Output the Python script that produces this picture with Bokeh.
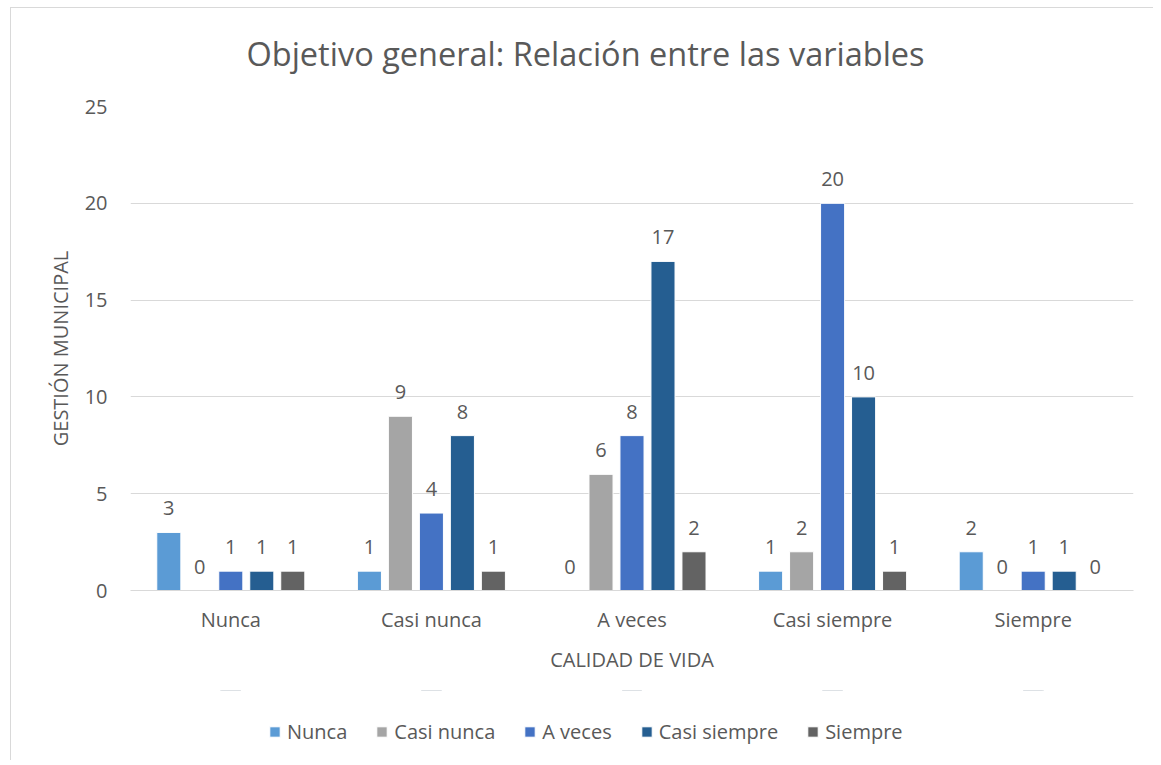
from bokeh.plotting import figure
from bokeh.models import (ColumnDataSource, FactorRange, Range1d, FixedTicker,
                          LabelSet, Legend, LegendItem)
from bokeh.core.properties import value
from bokeh.transform import dodge
from bokeh.layouts import column
from bokeh.embed import file_html
from bokeh.resources import INLINE

# ---- data ----
categories = ["Nunca", "Casi nunca", "A veces", "Casi siempre", "Siempre"]
series_names = ["Nunca", "Casi nunca", "A veces", "Casi siempre", "Siempre"]
nunca = [3, 1, 0, 1, 2]
casi_nunca = [0, 9, 6, 2, 0]
a_veces = [1, 4, 8, 20, 1]
casi_siempre = [1, 8, 17, 10, 1]
siempre = [1, 1, 2, 1, 0]
series_values = [nunca, casi_nunca, a_veces, casi_siempre, siempre]
colors = ["#5B9BD5", "#A5A5A5", "#4472C4", "#255E91", "#636363"]
y_ticks = [0, 5, 10, 15, 20, 25]

TITLE = "Objetivo general: Relación entre las variables"
X_LABEL = "CALIDAD DE VIDA"
Y_LABEL = "GESTIÓN MUNICIPAL"

FONT = "Open Sans"
TXT = "#595959"
GRID = "#D9D9D9"
LINE = "linear-gradient(#D9D9D9,#D9D9D9)"

p = figure(x_range=FactorRange(*categories), y_range=Range1d(0, 25),
           width=1153, height=690,
           min_border_left=130, min_border_right=20,
           min_border_top=106, min_border_bottom=100,
           output_backend="svg", toolbar_location=None,
           title=TITLE)
p.x_range.range_padding = 0
p.background_fill_color = None
p.border_fill_color = None
p.styles = {"background": (f"{LINE} 10px 7px / 1px calc(100% - 7px) no-repeat, "
                           f"{LINE} 10px 7px / calc(100% - 10px) 1px no-repeat, "
                           "#FFFFFF")}

p.title.text_font = FONT
p.title.text_font_size = "32.5px"
p.title.text_font_style = "normal"
p.title.text_color = TXT
p.title.align = "left"
p.title.vertical_align = "top"
p.title.offset = 116
p.title.standoff = 58

p.outline_line_color = None
p.xgrid.grid_line_color = None
p.ygrid.grid_line_color = GRID
p.ygrid.grid_line_width = 1

p.yaxis.ticker = FixedTicker(ticks=y_ticks)
p.yaxis.axis_line_color = None
p.yaxis.major_tick_line_color = None
p.yaxis.minor_tick_line_color = None
p.yaxis.major_label_standoff = 17
p.yaxis.major_label_text_font = FONT
p.yaxis.major_label_text_font_size = "20px"
p.yaxis.major_label_text_color = TXT
p.yaxis.axis_label = Y_LABEL
p.yaxis.axis_label_text_font = FONT
p.yaxis.axis_label_text_font_size = "20px"
p.yaxis.axis_label_text_font_style = "normal"
p.yaxis.axis_label_text_color = TXT
p.yaxis.axis_label_standoff = 8

p.xaxis.axis_line_color = GRID
p.xaxis.axis_line_width = 1
p.xaxis.major_tick_line_color = None
p.xaxis.minor_tick_line_color = None
p.xaxis.major_label_standoff = 9
p.xaxis.major_label_text_font = FONT
p.xaxis.major_label_text_font_size = "20px"
p.xaxis.major_label_text_color = TXT
p.xaxis.axis_label = X_LABEL
p.xaxis.axis_label_text_font = FONT
p.xaxis.axis_label_text_font_size = "20px"
p.xaxis.axis_label_text_font_style = "normal"
p.xaxis.axis_label_text_color = TXT
p.xaxis.axis_label_standoff = 10

pitch = 0.1545
bar_w = 0.12
sources = []
for i, (name, vals, col) in enumerate(zip(series_names, series_values, colors)):
    off = (i - 2) * pitch
    src = ColumnDataSource(dict(cat=categories, val=vals, lbl=[str(v) for v in vals]))
    sources.append(src)
    p.vbar(x=dodge("cat", off, range=p.x_range), top="val", width=bar_w,
           source=src, fill_color=col, line_color="white", line_width=1)
    labels = LabelSet(x=dodge("cat", off, range=p.x_range), y="val", text="lbl",
                      source=src, y_offset=17, text_align="center",
                      text_baseline="alphabetic", text_font=value(FONT),
                      text_font_size=value("20px"), text_color=TXT)
    p.add_layout(labels)

# ---- legend strip (separate figure below the chart) ----
# Its bars share the chart's data but lie outside this strip's y-range,
# so only the legend keys (which need drawable renderers) are visible.
p2 = figure(width=1153, height=70, x_range=FactorRange(*categories),
            y_range=Range1d(-3, -2),
            x_axis_type=None, y_axis_type=None,
            min_border_left=0, min_border_right=0, min_border_top=0, min_border_bottom=0,
            output_backend="svg", toolbar_location=None)
p2.outline_line_color = None
p2.background_fill_color = None
p2.border_fill_color = None
p2.grid.visible = False
p2.styles = {"background": f"{LINE} 10px 0px / 1px 100% no-repeat, #FFFFFF"}

items = []
for name, col, src in zip(series_names, colors, sources):
    r = p2.vbar(x="cat", top="val", width=0.1, source=src,
                fill_color=col, line_color="white", line_width=1)
    items.append(LegendItem(label=name, renderers=[r]))

legend = Legend(items=items, orientation="horizontal", location=(138, 15),
                padding=0, margin=0, spacing=28, label_standoff=6,
                glyph_width=13, glyph_height=13,
                label_text_font=FONT, label_text_font_size="20px",
                label_text_color=TXT,
                border_line_color=None, background_fill_alpha=0)
p2.add_layout(legend, "center")

layout = column(p, p2, spacing=0)
open("out.html", "w").write(file_html(layout, INLINE))
